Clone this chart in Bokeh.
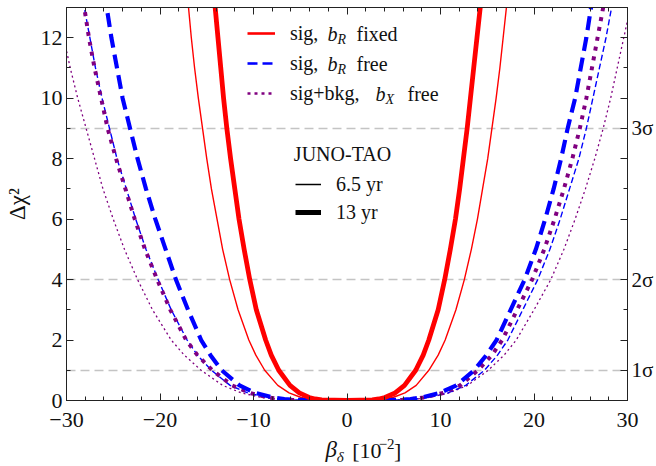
from bokeh.plotting import figure
from bokeh.layouts import column
from bokeh.models import (Range1d, LinearAxis, SingleIntervalTicker, FixedTicker,
                          CustomJSTickFormatter, Label, Legend, LegendItem)
from bokeh.embed import file_html
from bokeh.resources import INLINE

# ---------------- data ----------------
DCHI2_LEVELS = [0.02, 0.05, 0.1, 0.25, 0.5, 1, 1.5, 2, 3, 4, 5, 6, 7, 8, 9, 10, 11, 12, 13, 13.5]

# sig, b_R fixed
RED_13YR_LEFT = [-2.7, -3.4, -4.05, -5.1, -6.1, -7.3, -8.1, -8.7, -9.7, -10.4, -11.0, -11.55, -12.0, -12.45, -12.85, -13.2, -13.5, -13.8, -14.1, -14.2]
RED_13YR_RIGHT = [2.7, 3.4, 4.05, 5.15, 6.15, 7.35, 8.15, 8.75, 9.75, 10.45, 11.05, 11.6, 12.05, 12.45, 12.85, 13.2, 13.55, 13.9, 14.25, 14.4]
RED_65YR_LEFT = [-3.2, -4.1, -4.9, -6.2, -7.4, -8.8, -9.75, -10.5, -11.65, -12.55, -13.3, -13.9, -14.5, -15.0, -15.45, -15.9, -16.3, -16.65, -16.95, -17.1]
RED_65YR_RIGHT = [3.2, 4.1, 4.9, 6.2, 7.4, 8.75, 9.75, 10.5, 11.65, 12.55, 13.3, 13.95, 14.5, 15.05, 15.5, 15.95, 16.35, 16.7, 17.05, 17.2]

# sig, b_R free
BLUE_13YR_LEFT = [-5.5, -6.7, -7.9, -9.8, -11.5, -13.4, -14.6, -15.6, -17.0, -18.3, -19.4, -20.5, -21.5, -22.4, -23.2, -24.0, -24.6, -25.2, -25.7, -25.95]
BLUE_13YR_RIGHT = [5.6, 6.8, 8.0, 9.9, 11.7, 13.6, 14.9, 16.0, 17.5, 19.0, 20.2, 21.2, 22.1, 22.9, 23.6, 24.4, 25.0, 25.6, 26.1, 26.35]
BLUE_65YR_LEFT = [-6.0, -7.3, -8.6, -10.6, -12.5, -14.5, -16.0, -17.1, -18.8, -20.2, -21.5, -22.6, -23.6, -24.6, -25.4, -26.2, -26.9, -27.5, -28.1, -28.35]
BLUE_65YR_RIGHT = [6.1, 7.4, 8.7, 10.8, 12.7, 14.7, 16.1, 17.2, 18.8, 20.4, 21.7, 22.8, 23.8, 24.8, 25.6, 26.3, 27.0, 27.7, 28.3, 28.6]

# sig+bkg, b_X free
PURPLE_13YR_LEFT = [-5.8, -7.1, -8.4, -10.4, -12.3, -14.4, -16.0, -17.2, -18.9, -20.3, -21.6, -22.7, -23.7, -24.7, -25.6, -26.3, -27.0, -27.6, -28.1, -28.35]
PURPLE_13YR_RIGHT = [5.8, 7.0, 8.2, 10.3, 12.1, 14.0, 15.5, 16.6, 18.2, 19.8, 21.1, 22.2, 23.2, 24.1, 24.9, 25.6, 26.2, 26.8, 27.4, 27.7]
PURPLE_65YR_LEFT = [-6.3, -7.7, -9.1, -11.3, -13.3, -15.6, -17.4, -18.8, -20.8, -22.4, -23.8, -25.0, -26.1, -27.0, -27.9, -28.8, -29.6, -30.3, -30.9, -31.2]
PURPLE_65YR_RIGHT = [6.2, 7.5, 8.8, 10.9, 12.9, 15.1, 16.8, 18.1, 20.0, 21.8, 23.2, 24.4, 25.5, 26.5, 27.4, 28.2, 28.9, 29.6, 30.3, 30.6]

SIGMA_LEVELS = [1, 4, 9]
SIGMA_LABELS = ["1σ", "2σ", "3σ"]
RIGHT_TICKS = [0, 1, 2, 4, 6, 8, 9, 10, 12]

SERIF = "Liberation Serif"
TXT = "#111111"
NAN = float("nan")


def curve(left, right):
    xs = list(reversed(left)) + [0.0] + list(right)
    ys = list(reversed(DCHI2_LEVELS)) + [0.0] + list(DCHI2_LEVELS)
    return xs, ys


p = figure(width=656, height=437, x_range=Range1d(-30, 30), y_range=Range1d(0, 13),
           output_backend="svg", toolbar_location=None,
           min_border_left=66, min_border_right=28, min_border_top=7, min_border_bottom=37,
           background_fill_color="white", border_fill_color="white")
p.outline_line_color = "#222222"
p.grid.visible = False


def style_axis(ax, size="22px"):
    ax.major_tick_in = 7
    ax.major_tick_out = 0
    ax.minor_tick_in = 4
    ax.minor_tick_out = 0
    ax.axis_line_color = "#222222"
    ax.major_tick_line_color = "#222222"
    ax.minor_tick_line_color = "#222222"
    ax.major_label_text_font = SERIF
    ax.major_label_text_font_size = size
    ax.major_label_text_color = TXT


xa = p.xaxis[0]
xa.ticker = SingleIntervalTicker(interval=10, num_minor_ticks=5)
xa.formatter = CustomJSTickFormatter(code="return tick < 0 ? '\\u2212' + Math.abs(tick) : String(tick);")
style_axis(xa)
xa.major_label_standoff = 12

ya = p.yaxis[0]
ya.ticker = SingleIntervalTicker(interval=2, num_minor_ticks=2)
style_axis(ya)
ya.major_label_standoff = 4
ya.axis_label = "Δχ²"
ya.axis_label_text_font = SERIF
ya.axis_label_text_font_size = "23px"
ya.axis_label_text_font_style = "normal"
ya.axis_label_text_color = TXT
ya.axis_label_standoff = 8

top = LinearAxis(ticker=SingleIntervalTicker(interval=10, num_minor_ticks=5))
style_axis(top, "0px")
top.major_label_standoff = 0
top.formatter = CustomJSTickFormatter(code="return '';")
p.add_layout(top, "above")

overrides = {t: "" for t in RIGHT_TICKS}
overrides.update(dict(zip(SIGMA_LEVELS, SIGMA_LABELS)))
right = LinearAxis(ticker=FixedTicker(ticks=RIGHT_TICKS, minor_ticks=[3, 5, 7, 11, 13]),
                   major_label_overrides=overrides)
style_axis(right, "21px")
right.major_label_standoff = 4
p.add_layout(right, "right")

# sigma reference lines
p.hspan(y=SIGMA_LEVELS, line_color="#c4c4c4", line_width=1.6, line_dash="9 5")

RED, BLUE, PURPLE = "#ff0000", "#0000ff", "#800080"

x, y = curve(PURPLE_65YR_LEFT, PURPLE_65YR_RIGHT)
p.line(x, y, line_color=PURPLE, line_width=1.3, line_dash="2 3")
x, y = curve(BLUE_65YR_LEFT, BLUE_65YR_RIGHT)
p.line(x, y, line_color=BLUE, line_width=1.4, line_dash="6 3")
x, y = curve(RED_65YR_LEFT, RED_65YR_RIGHT)
p.line(x, y, line_color=RED, line_width=1.4, line_join="round")
x, y = curve(PURPLE_13YR_LEFT, PURPLE_13YR_RIGHT)
p.line(x, y, line_color=PURPLE, line_width=4, line_dash="4 6")
x, y = curve(BLUE_13YR_LEFT, BLUE_13YR_RIGHT)
p.line(x, y, line_color=BLUE, line_width=4.2, line_dash="14 7")
x, y = curve(RED_13YR_LEFT, RED_13YR_RIGHT)
p.line(x, y, line_color=RED, line_width=4.8, line_join="round")

# legend keys (renderers that draw nothing in the frame, used only for their keys)
k_red = p.line(x=[NAN], y=[NAN], line_color=RED, line_width=2.6)
k_blue = p.line(x=[NAN], y=[NAN], line_color=BLUE, line_width=2.6, line_dash="10 5")
k_purple = p.line(x=[NAN], y=[NAN], line_color=PURPLE, line_width=2.6, line_dash="3 4")
k_thin = p.line(x=[NAN], y=[NAN], line_color="black", line_width=1.5)
k_thick = p.line(x=[NAN], y=[NAN], line_color="black", line_width=5)


def key_legend(pairs, loc, spacing, gw):
    leg = Legend(items=[LegendItem(label=lab, renderers=[r]) for lab, r in pairs],
                 location=loc, padding=0, margin=0, spacing=spacing,
                 glyph_width=gw, glyph_height=24, label_height=24,
                 label_standoff=15, label_text_font=SERIF, label_text_font_size="20px",
                 label_text_color=TXT,
                 background_fill_alpha=0, border_line_alpha=0)
    p.add_layout(leg, "center")


key_legend([("sig,", k_red), ("sig,", k_blue), ("sig+bkg,", k_purple)], (181, 295), 6, 28)
key_legend([("6.5 yr", k_thin), ("13 yr", k_thick)], (229, 176), 4, 26)


def txt(fig, text, ax, ay, dx, dy, size, style="normal", align="left"):
    fig.add_layout(Label(x=ax, y=ay, x_offset=dx, y_offset=dy, text=text,
                         text_font=SERIF, text_font_size=f"{size}px", text_font_style=style,
                         text_align=align, text_baseline="middle", text_color=TXT))


# rest of the legend texts (anchored at the top-left corner of the frame)
TL = (-30, 13)
txt(p, "b", *TL, 261, -26, 20, "italic")
txt(p, "R", *TL, 271, -32, 14, "italic")
txt(p, "fixed", *TL, 290, -26, 20)
txt(p, "b", *TL, 261, -56, 20, "italic")
txt(p, "R", *TL, 271, -62, 14, "italic")
txt(p, "free", *TL, 290, -56, 20)
txt(p, "b", *TL, 309, -86, 20, "italic")
txt(p, "X", *TL, 319, -92, 14, "italic")
txt(p, "free", *TL, 341, -86, 20)
txt(p, "JUNO-TAO", *TL, 276, -146, 20, "normal", "center")

# x-axis label strip below the plot (units: pixels of the strip)
p2 = figure(width=656, height=29, x_range=Range1d(0, 656), y_range=Range1d(0, 29),
            output_backend="svg", toolbar_location=None, title=None,
            x_axis_type=None, y_axis_type=None,
            min_border_left=0, min_border_right=0, min_border_top=0, min_border_bottom=0,
            background_fill_color="white", border_fill_color="white")
p2.outline_line_color = None
p2.grid.visible = False
txt(p2, "β", 303, 16.8, 0, 0, 23, "italic")
txt(p2, "δ", 316, 10, 0, 0, 15, "italic")
txt(p2, "[10", 334, 16.4, 0, 0, 22)
txt(p2, "−2", 365, 23, 0, 0, 15)
txt(p2, "]", 383, 16.4, 0, 0, 22)

layout = column(p, p2, spacing=0)
open("out.html", "w").write(file_html(layout, INLINE))
